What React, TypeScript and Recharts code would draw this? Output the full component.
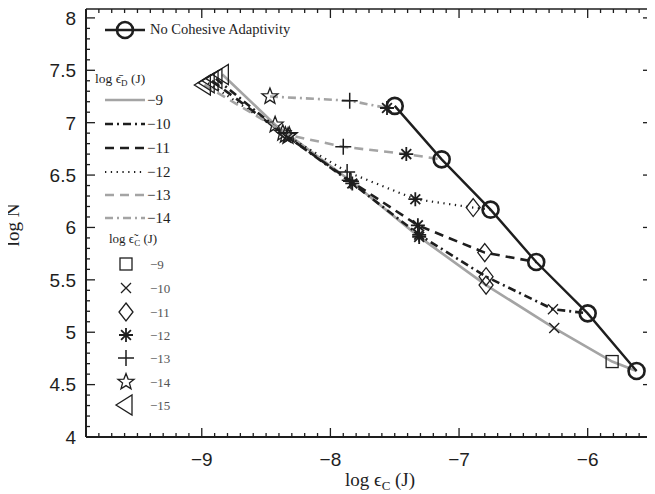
import { LineChart, Line, XAxis, YAxis } from 'recharts'

const W = 647
const H = 486

// marker codes: tr=-15 st=-14 pl=-13 as=-12 di=-11 x=-10 sq=-9, '' = ends on the no-adaptivity point
const noCohX = [-7.5, -7.135, -6.755, -6.4, -6.0, -5.62]
const noCohY = [7.16, 6.65, 6.17, 5.67, 5.18, 4.63]

const d9X = [-8.84, -8.43, -7.85, -7.31, -6.79, -6.26, -5.81, -5.62]
const d9Y = [7.46, 6.98, 6.45, 5.91, 5.45, 5.04, 4.72, 4.63]
const d9M = ['tr', 'st', 'pl', 'as', 'di', 'x', 'sq', '']

const d10X = [-8.89, -8.37, -7.83, -7.31, -6.79, -6.27, -6.0]
const d10Y = [7.42, 6.9, 6.42, 5.93, 5.53, 5.22, 5.18]
const d10M = ['tr', 'st', 'as', 'as', 'di', 'x', '']

const d11X = [-8.92, -8.35, -7.84, -7.32, -6.8, -6.4]
const d11Y = [7.4, 6.88, 6.44, 6.02, 5.76, 5.67]
const d11M = ['tr', 'st', 'pl', 'as', 'di', '']

const d12X = [-8.95, -8.33, -7.87, -7.34, -6.89, -6.755]
const d12Y = [7.38, 6.87, 6.53, 6.27, 6.19, 6.17]
const d12M = ['tr', 'st', 'pl', 'as', 'di', '']

const d13X = [-8.98, -8.32, -7.9, -7.41, -7.135]
const d13Y = [7.36, 6.88, 6.77, 6.7, 6.65]
const d13M = ['tr', 'st', 'pl', 'as', '']

const d14X = [-8.47, -7.85, -7.56, -7.5]
const d14Y = [7.25, 7.21, 7.14, 7.16]
const d14M = ['st', 'pl', 'as', '']

const xMajor = [-9, -8, -7, -6]
const yMajor = [4, 4.5, 5, 5.5, 6, 6.5, 7, 7.5, 8]
const eDLabels = ['−9', '−10', '−11', '−12', '−13', '−14']
const eCLabels = ['−9', '−10', '−11', '−12', '−13', '−14', '−15']
const eCMarks = ['sq', 'x', 'di', 'as', 'pl', 'st', 'tr']

const BLACK = '#1e1e1e'
const GRAY = '#a4a4a4'

const zip = (xs: number[], ys: number[], ms: string[]) =>
	xs.map((x, i) => ({ x, y: ys[i], m: ms[i] }))

const steps = (a: number, b: number, s: number) => {
	const out: number[] = []
	for (let v = a; v <= b + 1e-9; v += s) out.push(Math.round(v * 10) / 10)
	return out
}
const xTicks = steps(-9.9, -5.5, 0.1)
const yTicks = steps(4, 8, 0.1)

const styles = [
	{ key: 'd9', data: zip(d9X, d9Y, d9M), stroke: GRAY, dash: undefined, w: 2.6 },
	{ key: 'd10', data: zip(d10X, d10Y, d10M), stroke: BLACK, dash: '8 4 2 4', w: 2.6 },
	{ key: 'd11', data: zip(d11X, d11Y, d11M), stroke: BLACK, dash: '9 6', w: 2.6 },
	{ key: 'd12', data: zip(d12X, d12Y, d12M), stroke: BLACK, dash: '1.3 4.5', w: 2.2 },
	{ key: 'd13', data: zip(d13X, d13Y, d13M), stroke: GRAY, dash: '9 6', w: 2.6 },
	{ key: 'd14', data: zip(d14X, d14Y, d14M), stroke: GRAY, dash: '8 4 2 4', w: 2.6 },
]
const noCoh = zip(noCohX, noCohY, noCohX.map(() => 'ci'))

function Marker({ cx, cy, m }: { cx: number; cy: number; m: string }) {
	const s = { fill: 'none', stroke: BLACK, strokeWidth: 1.3 }
	switch (m) {
		case 'sq':
			return <rect x={cx - 6} y={cy - 6} width={12} height={12} {...s} />
		case 'x':
			return <path d={`M${cx - 5},${cy - 5}L${cx + 5},${cy + 5}M${cx - 5},${cy + 5}L${cx + 5},${cy - 5}`} {...s} />
		case 'di':
			return <path d={`M${cx},${cy - 9}L${cx + 7},${cy}L${cx},${cy + 9}L${cx - 7},${cy}Z`} {...s} />
		case 'as': {
			const r = 7
			const d = r * 0.7
			return (
				<path
					d={`M${cx},${cy - r}L${cx},${cy + r}M${cx - r},${cy}L${cx + r},${cy}M${cx - d},${cy - d}L${cx + d},${cy + d}M${cx - d},${cy + d}L${cx + d},${cy - d}`}
					{...s}
					strokeWidth={1.8}
				/>
			)
		}
		case 'pl':
			return <path d={`M${cx},${cy - 8}L${cx},${cy + 8}M${cx - 8},${cy}L${cx + 8},${cy}`} {...s} strokeWidth={1.5} />
		case 'st': {
			const pts = []
			for (let i = 0; i < 10; i++) {
				const r = i % 2 === 0 ? 8.5 : 3.6
				const a = -Math.PI / 2 + (i * Math.PI) / 5
				pts.push(`${cx + r * Math.cos(a)},${cy + r * Math.sin(a)}`)
			}
			return <polygon points={pts.join(' ')} {...s} />
		}
		case 'tr':
			return <path d={`M${cx - 10},${cy}L${cx + 6},${cy - 10}L${cx + 6},${cy + 10}Z`} {...s} />
		case 'ci':
			return <circle cx={cx} cy={cy} r={8} fill='none' stroke={BLACK} strokeWidth={2.6} />
		default:
			return <g />
	}
}

const dotFn = (p: any) => <Marker key={`m-${p.index}`} cx={p.cx} cy={p.cy} m={p.payload.m} />

const fmt = (v: number) => (v < 0 ? `−${Math.abs(v)}` : `${v}`)
const isMajorX = (v: number) => Math.abs(v - Math.round(v)) < 1e-6
const isMajorY = (v: number) => Math.abs(v * 2 - Math.round(v * 2)) < 1e-6
const tickFont = { fontFamily: 'Liberation Sans, Arial, sans-serif', fontSize: 19, fill: BLACK }
const TW = 1.3 // tick mark thickness

// ticks point into the plot, like the original's boxed frame
const BottomTick = (props: any) => {
	const x = Number(props.x)
	const y = Number(props.y)
	const v = props.payload.value
	const len = isMajorX(v) ? 9 : 4
	return (
		<g>
			<rect x={x - TW / 2} y={y - len} width={TW} height={len} fill={BLACK} stroke='none' />
			{xMajor.includes(v) && (
				<text x={x} y={y + 29} textAnchor='middle' {...tickFont}>
					{fmt(v)}
				</text>
			)}
		</g>
	)
}
const TopTick = (props: any) => {
	const x = Number(props.x)
	const y = Number(props.y)
	const len = isMajorX(props.payload.value) ? 9 : 4
	return <rect x={x - TW / 2} y={y} width={TW} height={len} fill={BLACK} stroke='none' />
}
const LeftTick = (props: any) => {
	const x = Number(props.x)
	const y = Number(props.y)
	const v = props.payload.value
	const len = isMajorY(v) ? 9 : 4
	return (
		<g>
			<rect x={x} y={y - TW / 2} width={len} height={TW} fill={BLACK} stroke='none' />
			{yMajor.includes(v) && (
				<text x={x - 10} y={y} dy='0.36em' textAnchor='end' {...tickFont}>
					{v}
				</text>
			)}
		</g>
	)
}
const RightTick = (props: any) => {
	const x = Number(props.x)
	const y = Number(props.y)
	const len = isMajorY(props.payload.value) ? 9 : 4
	return <rect x={x - len} y={y - TW / 2} width={len} height={TW} fill={BLACK} stroke='none' />
}

const serif = { fontFamily: 'Liberation Serif, Times New Roman, serif', fill: BLACK }

// legend and axis titles, drawn in page coordinates
function Overlay() {
	const lx1 = 105
	const lx2 = 145
	const eDy = [100, 124, 148, 172, 195, 218]
	const eCy = [264, 288, 312, 335, 358, 382, 405]
	return (
		<svg
			width={655}
			height={494}
			style={{ position: 'absolute', left: -8, top: -8, pointerEvents: 'none', overflow: 'visible' }}
		>
			<line x1={lx1} x2={lx2} y1={30} y2={30} stroke={BLACK} strokeWidth={2.6} />
			<circle cx={125} cy={30} r={8} fill='none' stroke={BLACK} strokeWidth={2.6} />
			<text x={150} y={34} fontSize={14.5} {...serif}>No Cohesive Adaptivity</text>
			<text x={95} y={83} fontSize={13.5} {...serif}>
				log ϵ̄<tspan fontSize={9} dy={3}>D</tspan>
				<tspan dy={-3}> (J)</tspan>
			</text>
			{styles.map((s, i) => (
				<g key={s.key}>
					<line x1={lx1} x2={lx2} y1={eDy[i]} y2={eDy[i]} stroke={s.stroke} strokeWidth={s.w} strokeDasharray={s.dash} />
					<text x={147} y={eDy[i] + 5} fontSize={15} {...serif}>{eDLabels[i]}</text>
				</g>
			))}
			<text x={109} y={243} fontSize={13} {...serif}>
				log ϵ̃<tspan fontSize={9} dy={3}>C</tspan>
				<tspan dy={-3}> (J)</tspan>
			</text>
			{eCMarks.map((m, i) => (
				<g key={m}>
					<Marker cx={126} cy={eCy[i]} m={m} />
					<text x={150} y={eCy[i] + 5} fontSize={13} {...serif} fill='#555'>{eCLabels[i]}</text>
				</g>
			))}
			<text x={19} y={225} fontSize={19} textAnchor='middle' transform='rotate(-90 19 225)' {...serif}>
				log N
			</text>
			<text x={380} y={486} fontSize={19} textAnchor='middle' {...serif}>
				log ϵ<tspan fontSize={13} dy={4}>C</tspan>
				<tspan dy={-4}> (J)</tspan>
			</text>
		</svg>
	)
}

export default function App() {
	return (
		<div style={{ position: 'relative', width: W, height: H }}>
			<LineChart width={W} height={H} margin={{ top: 0, right: 2, bottom: 0, left: 0 }}>
				<XAxis
					xAxisId='b'
					type='number'
					dataKey='x'
					domain={[-9.9, -5.5]}
					ticks={xTicks}
					interval={0}
					tickSize={0}
					tickMargin={0}
					height={57}
					allowDataOverflow
					tick={<BottomTick />}
					axisLine={{ stroke: BLACK, strokeWidth: 2 }}
				/>
				<XAxis
					xAxisId='t'
					orientation='top'
					type='number'
					dataKey='x'
					domain={[-9.9, -5.5]}
					ticks={xTicks}
					interval={0}
					tickSize={0}
					tickMargin={0}
					height={1}
					allowDataOverflow
					tick={<TopTick />}
					axisLine={{ stroke: BLACK, strokeWidth: 1.5 }}
				/>
				<YAxis
					yAxisId='l'
					type='number'
					domain={[4, 8.085]}
					ticks={yTicks}
					interval={0}
					tickSize={0}
					tickMargin={0}
					width={78}
					allowDataOverflow
					tick={<LeftTick />}
					axisLine={{ stroke: BLACK, strokeWidth: 2 }}
				/>
				<YAxis
					yAxisId='r'
					orientation='right'
					type='number'
					domain={[4, 8.085]}
					ticks={yTicks}
					interval={0}
					tickSize={0}
					tickMargin={0}
					width={1}
					allowDataOverflow
					tick={<RightTick />}
					axisLine={{ stroke: BLACK, strokeWidth: 1.5 }}
				/>
				{styles.map((s) => (
					<Line
						key={s.key}
						xAxisId='b'
						yAxisId='l'
						data={s.data}
						dataKey='y'
						type='linear'
						stroke={s.stroke}
						strokeWidth={s.w}
						strokeDasharray={s.dash}
						dot={dotFn}
						activeDot={false}
						isAnimationActive={false}
					/>
				))}
				<Line
					xAxisId='b'
					yAxisId='l'
					data={noCoh}
					dataKey='y'
					type='linear'
					stroke={BLACK}
					strokeWidth={2.4}
					dot={dotFn}
					activeDot={false}
					isAnimationActive={false}
				/>
			</LineChart>
			<Overlay />
		</div>
	)
}
